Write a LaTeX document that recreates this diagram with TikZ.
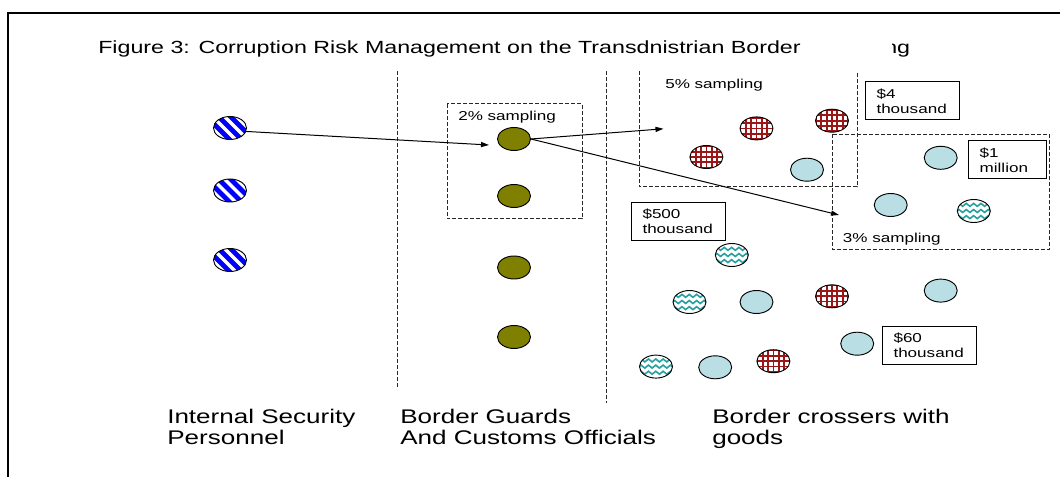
\documentclass[tikz,border=0pt]{standalone}
\usepackage{fontspec}
\setmainfont[FakeStretch=1.32]{Liberation Sans}
\usetikzlibrary{shapes.geometric,arrows.meta,decorations.pathmorphing}

\definecolor{stripeblue}{RGB}{0,0,255}
\definecolor{gridred}{RGB}{155,22,22}
\definecolor{waveteal}{RGB}{38,160,160}
\definecolor{paleblue}{RGB}{185,223,228}
\definecolor{olivegreen}{RGB}{128,128,0}
\definecolor{dashgray}{RGB}{40,40,40}

\newcommand\fTitle{\fontsize{13.2}{15}\selectfont}
\newcommand\fColumn{\fontsize{14.8}{15.5}\selectfont}
\newcommand\fSmall{\fontsize{9.7}{11.25}\selectfont}

\tikzset{
  token/.style={ellipse, draw=black, line width=0.7pt,
    minimum width=24.75pt, minimum height=17.25pt, inner sep=0pt},
  striped/.style={token, fill=white, path picture={
      \foreach \k in {-2,...,2}
        \draw[stripeblue, line width=3.6pt]
          ([xshift=\k*9pt]path picture bounding box.center) ++(-16pt,16pt) -- ++(32pt,-32pt);}},
  checked/.style={token, fill=white, path picture={
      \foreach \k in {-4,...,4} {
        \draw[gridred, line width=1.3pt]
          ([xshift=\k*4pt]path picture bounding box.north) -- ([xshift=\k*4pt]path picture bounding box.south);
        \draw[gridred, line width=1.3pt]
          ([yshift=\k*4pt]path picture bounding box.west) -- ([yshift=\k*4pt]path picture bounding box.east);}}},
  wavy/.style={token, fill=white, path picture={
      \foreach \k in {-1,0,1}
        \draw[waveteal, line width=1.2pt, decorate,
              decoration={snake, amplitude=1.1pt, segment length=5.5pt}]
          ([shift={(-6pt,\k*4.6pt)}]path picture bounding box.west) --
          ([shift={(6pt,\k*4.6pt)}]path picture bounding box.east);}},
  plain/.style={token, fill=paleblue},
  guard/.style={token, fill=olivegreen},
  sline/.style={draw=dashgray, line width=0.75pt, dash pattern=on 3pt off 1.5pt},
  valbox/.style={rectangle, draw=black, line width=0.75pt, font=\fSmall,
    align=left, text width=#1, inner xsep=8.6pt, inner ysep=0pt, minimum height=28.5pt},
  lbl/.style={anchor=base west, inner sep=0pt, font=\fSmall},
  collabel/.style={anchor=base west, inner sep=0pt, align=left, font=\fColumn},
  conn/.style={line width=0.75pt, -{Triangle[length=6pt,width=3.8pt]}}
}

\begin{document}
\begin{tikzpicture}[x=0.75pt,y=-0.75pt]
\useasboundingbox (0,0) rectangle (1060,477);

% frame
\draw[line width=1.5pt] (8,477) -- (8,12.8) -- (1060,12.8);

% title
\node[anchor=base west, inner sep=0pt, font=\fTitle] (title) at (98,54)
  {Figure 3: Corruption Risk Management on the Transdnistrian Border};
\begin{scope}
  \clip (892.5,30) rectangle (930,70);
  \node[anchor=base west, inner sep=0pt, font=\fTitle] (tail) at (884,54) {ng};
\end{scope}

% column separators
\draw[sline] (397,71) -- (397,388);
\draw[sline] (606,71) -- (606,403);

% sampling areas
\draw[sline] (447,104) rectangle (582,219);
\draw[sline] (639,71) -- (639,187) -- (857,187) -- (857,71);
\draw[sline] (832,134.5) rectangle (1049.5,249.7);

\node[lbl] (s2) at (458,120.5) {2\% sampling};
\node[lbl] (s5) at (665,88.5) {5\% sampling};
\node[lbl] (s3) at (842.7,243) {3\% sampling};

% value boxes
\node[valbox=54pt] (v4) at (912.5,101) {\$4\\thousand};
\node[valbox=41pt, inner xsep=8.75pt] (v1m) at (1007,160) {\$1\\million};
\node[valbox=54pt] (v500) at (678.5,221.6) {\$500\\thousand};
\node[valbox=54pt] (v60) at (929.5,345) {\$60\\thousand};

% internal security personnel
\node[striped] (b1) at (230,128) {};
\node[striped] (b2) at (230,190.5) {};
\node[striped] (b3) at (230,260) {};

% border guards and customs officials
\node[guard] (g1) at (514,139) {};
\node[guard] (g2) at (514,196) {};
\node[guard] (g3) at (514,267.5) {};
\node[guard] (g4) at (514,337) {};

% border crossers with goods
\node[checked] (r1) at (756.5,128.4) {};
\node[checked] (r2) at (832,120.7) {};
\node[checked] (r3) at (706.4,157) {};
\node[checked] (r4) at (832,296.3) {};
\node[checked] (r5) at (773.4,361.2) {};

\node[plain] (p1) at (807,169.7) {};
\node[plain] (p2) at (940.7,157.8) {};
\node[plain] (p3) at (890.7,205) {};
\node[plain] (p4) at (756.5,302) {};
\node[plain] (p5) at (940.7,290.6) {};
\node[plain] (p6) at (857.2,343.7) {};
\node[plain] (p7) at (715.2,367.3) {};

\node[wavy] (w1) at (973.8,211) {};
\node[wavy] (w2) at (731.8,255) {};
\node[wavy] (w3) at (689.5,302) {};
\node[wavy] (w4) at (656,366.6) {};

% inspection arrows
\coordinate (t1) at (489,145);
\coordinate (t2) at (663.5,128.8);
\coordinate (t3) at (839,215);
\draw[conn] (b1.-12) -- (t1);
\draw[conn] (g1.east) -- (t2);
\draw[conn] (g1.east) -- (t3);

% column labels (anchored on the baseline of the last line)
\node[collabel] (c1) at (167,444) {Internal Security\\Personnel};
\node[collabel] (c2) at (400,444) {Border Guards\\And Customs Officials};
\node[collabel] (c3) at (712,444) {Border crossers with\\goods};
\end{tikzpicture}
\end{document}
